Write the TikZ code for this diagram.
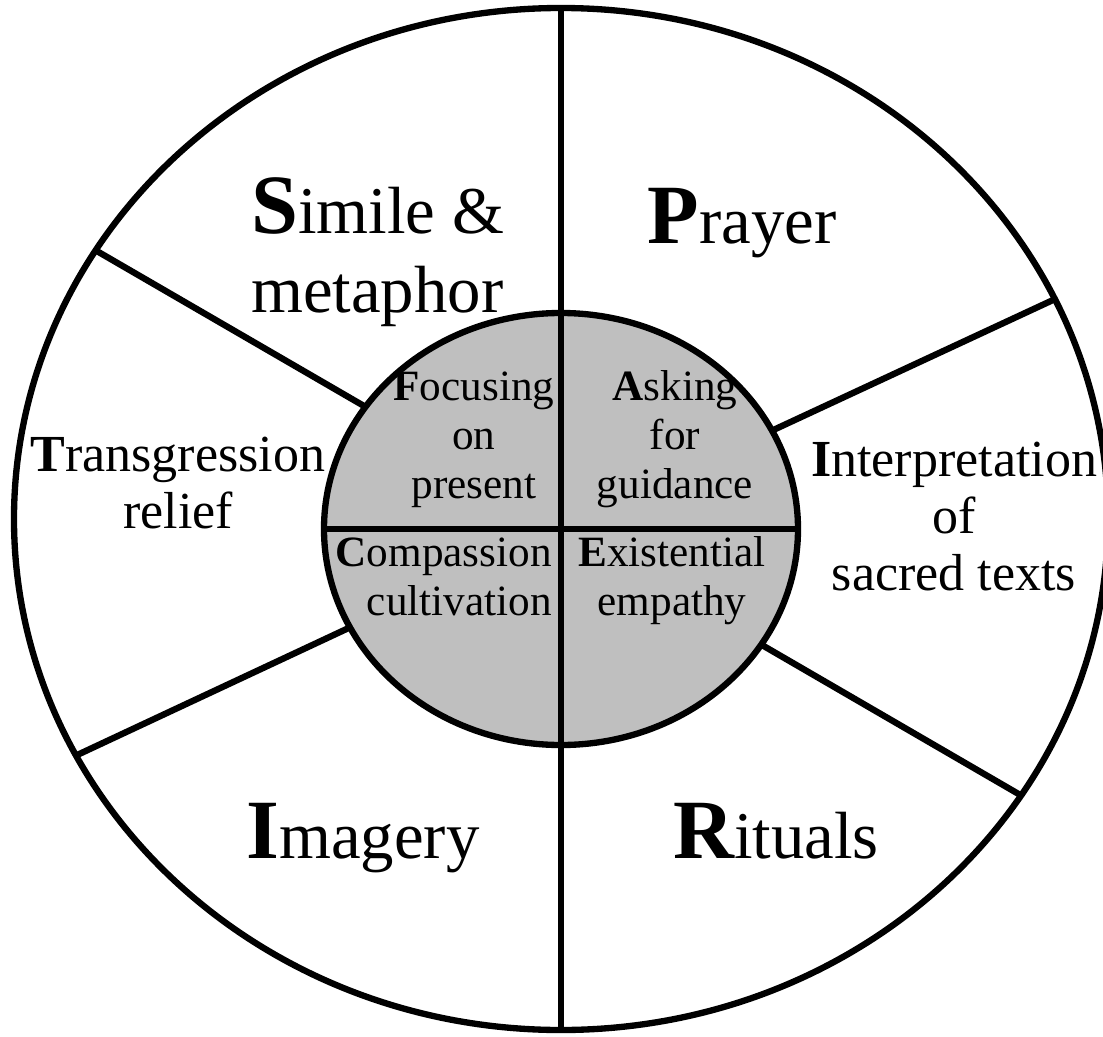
\documentclass[tikz,border=0pt]{standalone}
\usepackage{fontspec}
\setmainfont{Liberation Serif}
\usetikzlibrary{shapes.geometric}
\definecolor{hubgray}{RGB}{191,191,191}
\newcommand{\bigini}[1]{{\fontsize{24}{24}\selectfont\bfseries #1}}

\begin{document}
\begin{tikzpicture}[line width=1.8pt,
	bigtext/.style={font=\fontsize{19}{22.4}\selectfont, inner sep=0pt, align=left},
	midtext/.style={font=\fontsize{14.8}{16.2}\selectfont, inner sep=0pt, align=center},
	smalltext/.style={font=\fontsize{12.3}{13.9}\selectfont, inner sep=0pt, align=center}]

	\useasboundingbox (-5.61,-5.17) rectangle (5.42,5.19);

	% wheel and hub
	\node[draw, ellipse, minimum width=10.94cm, minimum height=10.22cm, inner sep=0pt, outer sep=0pt] (wheel) at (0,0) {};
	\node[draw, fill=hubgray, ellipse, minimum width=4.74cm, minimum height=4.32cm, inner sep=0pt, outer sep=0pt] (hub) at (0,-0.10) {};

	\draw (wheel.north) -- (wheel.south);
	\draw (hub.west) -- (hub.east);
	\draw (hub.148) -- (wheel.150);
	\draw (hub.25) -- (wheel.24);
	\draw (hub.205) -- (wheel.206);
	\draw (hub.-30) -- (wheel.-31);

	% outer ring (base = last line)
	\node[bigtext, anchor=base west] (simile) at (-3.13,2.07) {\bigini{S}imile \&\\metaphor};
	\node[bigtext, anchor=base] (prayer) at (1.81,2.76) {\bigini{P}rayer};
	\node[bigtext, anchor=base] (imagery) at (-1.98,-3.39) {\bigini{I}magery};
	\node[bigtext, anchor=base] (rituals) at (2.15,-3.39) {\bigini{R}ituals};
	\node[midtext, anchor=base] (transgr) at (-3.83,-0.09) {\textbf{T}ransgression\\relief};
	\node[midtext, anchor=base] (interp) at (3.93,-0.71) {\textbf{I}nterpretation\\of\\sacred texts};

	% hub
	\node[smalltext, anchor=base] (focus) at (-0.87,0.21) {\textbf{F}ocusing\\on\\present};
	\node[smalltext, anchor=base] (asking) at (1.14,0.21) {\textbf{A}sking\\for\\guidance};
	\node[smalltext, anchor=base east, align=right] (compass) at (-0.06,-0.96) {\textbf{C}ompassion\\cultivation};
	\node[smalltext, anchor=base] (exist) at (1.11,-0.96) {\textbf{E}xistential\\empathy};

\end{tikzpicture}
\end{document}
